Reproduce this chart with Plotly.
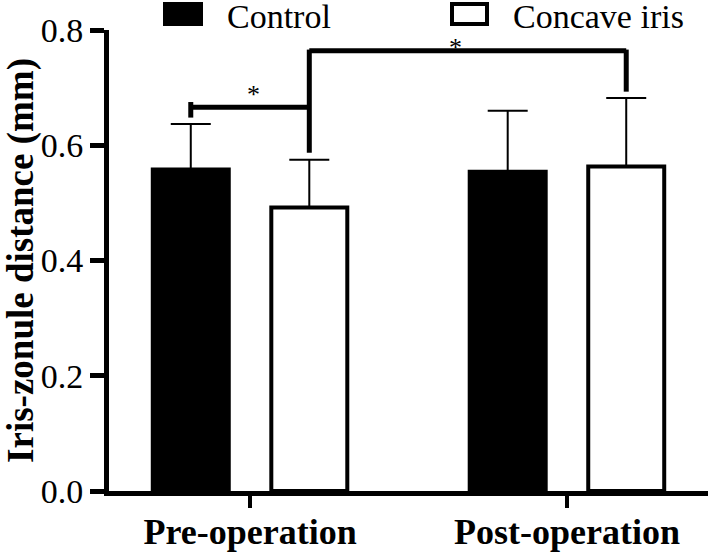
import plotly.graph_objects as go

# ---- data ----
categories = ["Pre-operation", "Post-operation"]
series_names = ["Control", "Concave iris"]
control_mean = [0.558, 0.554]
control_sd = [0.079, 0.106]
concave_mean = [0.492, 0.563]
concave_sd = [0.083, 0.119]
y_ticks = [0.0, 0.2, 0.4, 0.6, 0.8]
y_ticktext = ["0.0", "0.2", "0.4", "0.6", "0.8"]
sig_star = "*"

FONT = "Liberation Serif"

fig = go.Figure()
fig.add_trace(go.Bar(
    name=series_names[0], x=categories, y=control_mean,
    marker=dict(color="black", line=dict(color="black", width=4)),
    error_y=dict(type="data", array=control_sd, symmetric=False, arrayminus=[0, 0],
                 color="black", thickness=2, width=20),
    showlegend=False,
))
fig.add_trace(go.Bar(
    name=series_names[1], x=categories, y=concave_mean,
    marker=dict(color="white", line=dict(color="black", width=4)),
    error_y=dict(type="data", array=concave_sd, symmetric=False, arrayminus=[0, 0],
                 color="black", thickness=2, width=20),
    showlegend=False,
))

L = 109
W = 708 - L
T = 30
B = 61
H = 552 - T - B

fig.update_layout(
    width=708, height=552,
    margin=dict(l=L, r=0, t=T, b=B, autoexpand=False),
    paper_bgcolor="white", plot_bgcolor="white",
    barmode="group", bargap=0.252, bargroupgap=0.359,
    font=dict(family=FONT, color="black"),
)
fig.update_xaxes(
    range=[-0.445, 1.445], showline=True, linecolor="black", linewidth=5,
    ticks="outside", ticklen=12, tickwidth=4, tickcolor="black",
    tickfont=dict(family=FONT, size=36, color="black", weight="bold"),
    ticklabelstandoff=-7,
    showgrid=False, zeroline=False, automargin=False,
)
fig.update_yaxes(
    range=[0, 0.8], tickvals=y_ticks, ticktext=y_ticktext,
    showline=True, linecolor="black", linewidth=5,
    ticks="outside", ticklen=14, tickwidth=5, tickcolor="black",
    tickfont=dict(family=FONT, size=34, color="black"),
    showgrid=False, zeroline=False, automargin=False,
    title=dict(text="<b>Iris-zonule distance (mm)</b>",
               font=dict(family=FONT, size=37, color="black"), standoff=0),
)

off = 0.187
x_ctrl_pre = 0 - off
x_conc_pre = 0 + off
x_conc_post = 1 + off
lw = 5
line = dict(color="black", width=lw)
fig.add_shape(type="line", x0=x_ctrl_pre, x1=x_ctrl_pre, y0=0.648, y1=0.675, xref="x", yref="y", line=line)
fig.add_shape(type="line", x0=x_ctrl_pre, x1=x_conc_pre, y0=0.666, y1=0.666, xref="x", yref="y", line=line)
fig.add_shape(type="line", x0=x_conc_pre, x1=x_conc_pre, y0=0.587, y1=0.766, xref="x", yref="y", line=line)
fig.add_shape(type="line", x0=x_conc_pre, x1=x_conc_post, y0=0.764, y1=0.764, xref="x", yref="y", line=line)
fig.add_shape(type="line", x0=x_conc_post, x1=x_conc_post, y0=0.693, y1=0.766, xref="x", yref="y", line=line)

fig.add_annotation(x=0.01, y=0.660, text=sig_star, showarrow=False, xref="x", yref="y",
                   yanchor="bottom", font=dict(family=FONT, size=26, color="black"))
fig.add_annotation(x=0.647, y=0.741, text=sig_star, showarrow=False, xref="x", yref="y",
                   yanchor="bottom", font=dict(family=FONT, size=26, color="black"))

def px_x(p):
    return (p - L) / W

def px_y(p):
    return (552 - B - p) / H

fig.add_shape(type="rect", xref="paper", yref="paper",
              x0=px_x(163), x1=px_x(203), y0=px_y(26), y1=px_y(2),
              fillcolor="black", line=dict(color="black", width=0))
fig.add_shape(type="rect", xref="paper", yref="paper",
              x0=px_x(452), x1=px_x(487), y0=px_y(24), y1=px_y(4),
              fillcolor="white", line=dict(color="black", width=4))
fig.add_annotation(x=px_x(225), y=px_y(16), xref="paper", yref="paper", text=series_names[0],
                   showarrow=False, xanchor="left", yanchor="middle",
                   font=dict(family=FONT, size=34, color="black"))
fig.add_annotation(x=px_x(511), y=px_y(16), xref="paper", yref="paper", text=series_names[1],
                   showarrow=False, xanchor="left", yanchor="middle",
                   font=dict(family=FONT, size=34, color="black"))

fig.write_html("out.html", config={"displayModeBar": False},
               post_script="document.body.style.margin='0';document.body.style.overflow='hidden';")
